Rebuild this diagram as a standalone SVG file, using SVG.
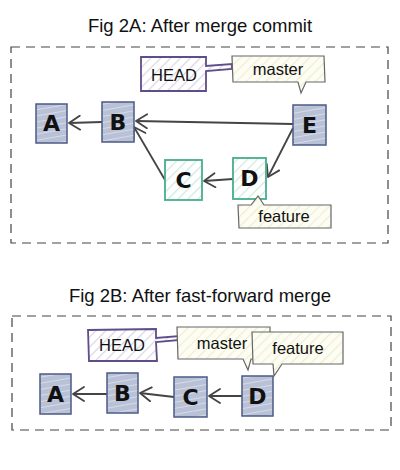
<svg xmlns="http://www.w3.org/2000/svg" width="400" height="470" viewBox="0 0 400 470">
<defs>
<pattern id="hBlue" patternUnits="userSpaceOnUse" width="6" height="6" patternTransform="rotate(80)">
<rect width="6" height="6" fill="#b9c1d6"/>
<line x1="0" y1="0" x2="0" y2="6" stroke="#d6dbe8" stroke-width="2"/>
</pattern>
<pattern id="hGreen" patternUnits="userSpaceOnUse" width="7" height="7" patternTransform="rotate(45)">
<rect width="7" height="7" fill="#ffffff"/>
<line x1="0" y1="0" x2="0" y2="7" stroke="#cfeae2" stroke-width="2.5"/>
</pattern>
<pattern id="hPurple" patternUnits="userSpaceOnUse" width="7" height="7" patternTransform="rotate(45)">
<rect width="7" height="7" fill="#ffffff"/>
<line x1="0" y1="0" x2="0" y2="7" stroke="#dcd6e6" stroke-width="2.5"/>
</pattern>
<pattern id="hYellow" patternUnits="userSpaceOnUse" width="7" height="7" patternTransform="rotate(45)">
<rect width="7" height="7" fill="#fdfdf6"/>
<line x1="0" y1="0" x2="0" y2="7" stroke="#eef0cc" stroke-width="2.5"/>
</pattern>
<marker id="arr" markerWidth="16" markerHeight="16" refX="13" refY="8" orient="auto" markerUnits="userSpaceOnUse">
<path d="M2,1 L13,8 L2,15" fill="none" stroke="#444" stroke-width="1.8" stroke-linecap="round" stroke-linejoin="round"/>
</marker>
</defs>
<style>
.title{font-family:"Liberation Sans",Arial,sans-serif;font-size:18.5px;fill:#111;text-anchor:middle}
.frame{fill:none;stroke:#444;stroke-width:1.2;stroke-dasharray:9 6}
.commit{fill:url(#hBlue);stroke:#4b5a86;stroke-width:1.5}
.green{fill:url(#hGreen);stroke:#46ad8c;stroke-width:1.8}
.letter{font-family:"DejaVu Sans",sans-serif;font-weight:bold;font-size:22px;fill:#111;text-anchor:middle}
.head{fill:url(#hPurple);stroke:#5f4d8a;stroke-width:1.8}
.branch{fill:url(#hYellow);stroke:#666;stroke-width:1.2}
.lbl{font-family:"Liberation Sans",Arial,sans-serif;font-size:16.5px;fill:#111;text-anchor:middle}
.edge{fill:none;stroke:#444;stroke-width:1.8;marker-end:url(#arr)}
</style>

<text class="title" x="200" y="32">Fig 2A: After merge commit</text>
<rect class="frame" x="11" y="47" width="377" height="196"/>

<g id="edgesA">
<line class="edge" x1="102" y1="122" x2="69" y2="123"/>
<line class="edge" x1="293" y1="124" x2="136" y2="121"/>
<line class="edge" x1="293" y1="128" x2="268" y2="177"/>
<line class="edge" x1="233" y1="179" x2="204" y2="181"/>
<line class="edge" x1="165" y1="180" x2="134" y2="127"/>
</g>

<g id="A1"><rect class="commit" x="36" y="104" width="31" height="39"/><text class="letter" x="51.5" y="131">A</text></g>
<g id="B1"><rect class="commit" x="102" y="102" width="32" height="40"/><text class="letter" x="118" y="130">B</text></g>
<g id="E1"><rect class="commit" x="293" y="105" width="33" height="40"/><text class="letter" x="309.5" y="133">E</text></g>
<g id="C1"><rect class="green" x="165" y="160" width="37" height="40"/><text class="letter" x="183.5" y="188">C</text></g>
<g id="D1"><rect class="green" x="233" y="158" width="33" height="41"/><text class="letter" x="249.5" y="186">D</text></g>

<g id="HEAD1">
<path class="head" d="M141,57 L206,57 L206,66 L232,64 L232,69 L206,71 L206,91 L141,91 Z"/>
<text class="lbl" x="174" y="81">HEAD</text>
</g>
<g id="master1">
<path class="branch" d="M232,56 L324,56 L325,82 L306,82 L301,93 L298,82 L233,82 Z"/>
<text class="lbl" x="278" y="75">master</text>
</g>
<g id="feature1">
<path class="branch" d="M238,205 L251,205 L258,196 L264,205 L331,205 L331,228 L239,228 Z"/>
<text class="lbl" x="284" y="222">feature</text>
</g>

<text class="title" x="200" y="302">Fig 2B: After fast-forward merge</text>
<rect class="frame" x="12" y="316" width="379" height="114"/>

<g id="edgesB">
<line class="edge" x1="107" y1="394" x2="73" y2="394"/>
<line class="edge" x1="174" y1="397" x2="140" y2="393"/>
<line class="edge" x1="242" y1="396" x2="209" y2="396"/>
</g>

<g id="A2"><rect class="commit" x="40" y="374" width="31" height="40"/><text class="letter" x="55.5" y="402">A</text></g>
<g id="B2"><rect class="commit" x="107" y="373" width="31" height="40"/><text class="letter" x="122.5" y="401">B</text></g>
<g id="C2"><rect class="commit" x="174" y="377" width="33" height="40"/><text class="letter" x="190.5" y="405">C</text></g>
<g id="D2"><rect class="commit" x="242" y="376" width="31" height="40"/><text class="letter" x="257.5" y="404">D</text></g>

<g id="HEAD2">
<path class="head" d="M88,330 L156,329 L156,338 L180,336 L180,340 L156,342 L157,361 L89,361 Z"/>
<text class="lbl" x="122" y="351">HEAD</text>
</g>
<g id="master2">
<path class="branch" d="M177,327 L270,327 L270,359 L251,359 L248,370 L243,359 L178,359 Z"/>
<text class="lbl" x="222" y="349">master</text>
</g>
<g id="feature2">
<path class="branch" d="M252,332 L343,332 L343,364 L282,364 L274,376 L273,364 L253,364 Z"/>
<text class="lbl" x="298" y="354">feature</text>
</g>
</svg>
